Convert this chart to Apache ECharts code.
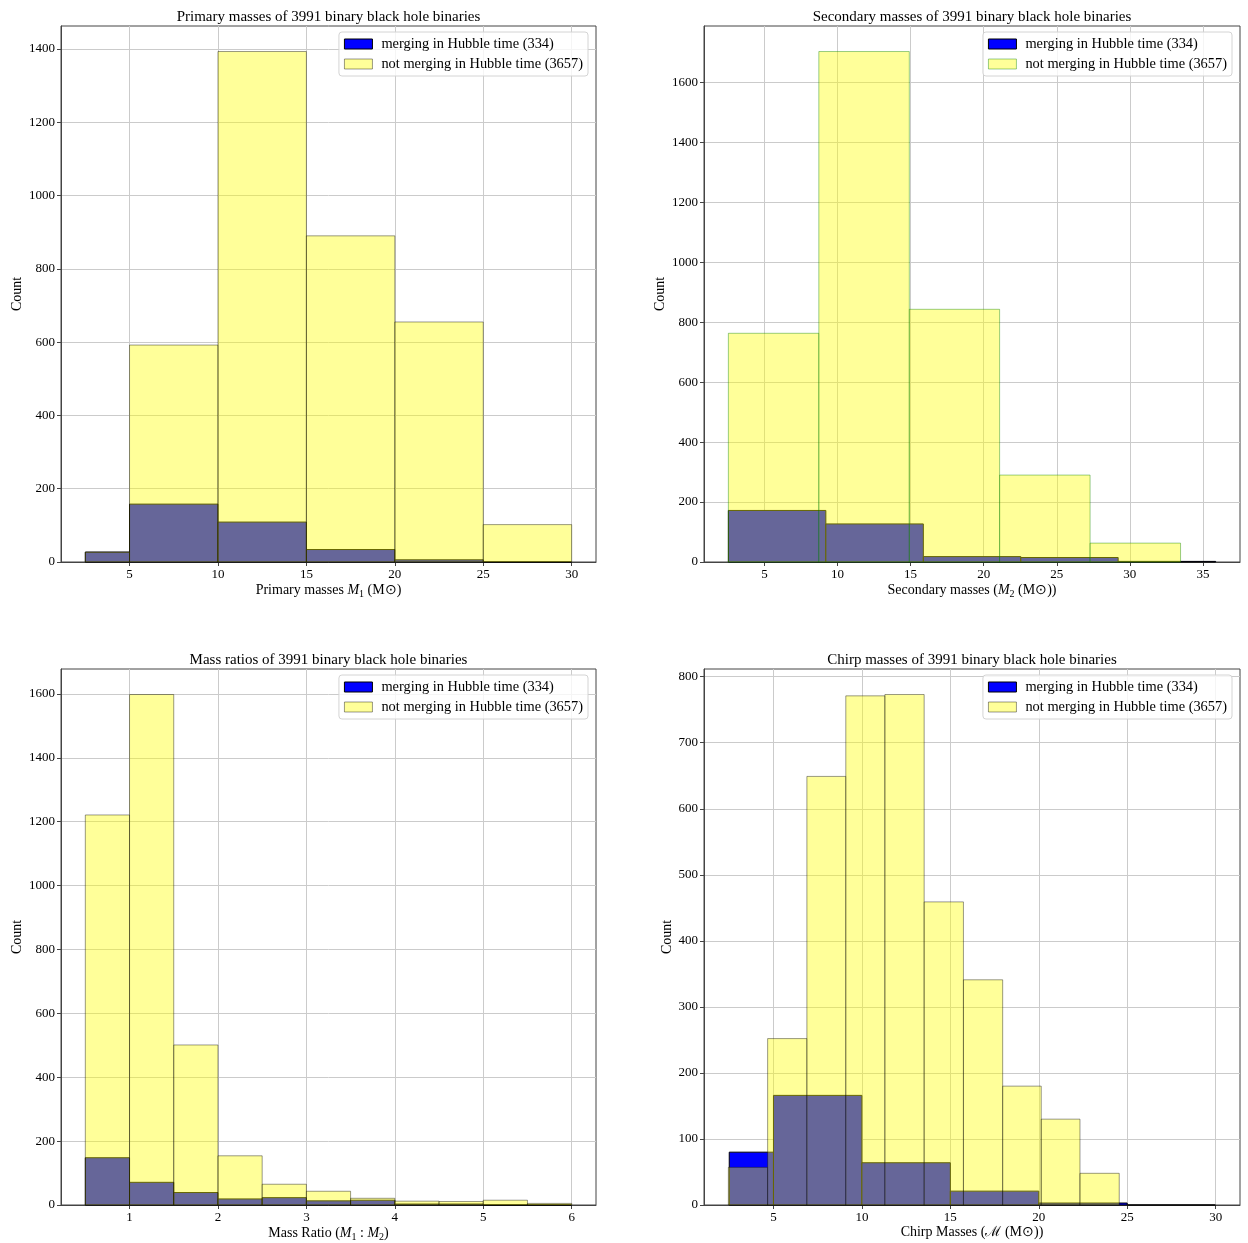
<!DOCTYPE html>
<html><head><meta charset="utf-8">
<script src="https://cdn.jsdelivr.net/npm/echarts@6/dist/echarts.min.js"></script>
<style>html,body{margin:0;padding:0;background:#fff}#c{width:1248px;height:1243px}</style>
</head><body><div id="c"></div>
<script>
// ---------- data ----------
const legendNames = ['merging in Hubble time (334)', 'not merging in Hubble time (3657)'];
const panelTitles = [
  'Primary masses of 3991 binary black hole binaries',
  'Secondary masses of 3991 binary black hole binaries',
  'Mass ratios of 3991 binary black hole binaries',
  'Chirp masses of 3991 binary black hole binaries'
];
const xAxisNames = [
  'Primary masses {i|M}{s|1} (M⊙)',
  'Secondary masses ({i|M}{s|2} (M⊙))',
  'Mass Ratio ({i|M}{s|1} : {i|M}{s|2})',
  'Chirp Masses (ℳ (M⊙))'
];
// Primary masses
const primaryMergingEdges = [2.5, 5, 10, 15, 20, 25, 30];
const primaryMergingCounts = [27, 158, 109, 34, 6, 0];
const primaryNotMergingEdges = [2.5, 5, 10, 15, 20, 25, 30];
const primaryNotMergingCounts = [27, 592, 1393, 890, 655, 102];
const primaryXTicks = [5, 10, 15, 20, 25, 30];
const primaryYTicks = [0, 200, 400, 600, 800, 1000, 1200, 1400];
// Secondary masses
const secondaryMergingEdges = [2.53, 9.2, 15.87, 22.54, 29.2, 35.87];
const secondaryMergingCounts = [172, 127, 18, 15, 2];
const secondaryNotMergingEdges = [2.53, 8.72, 14.91, 21.09, 27.28, 33.47];
const secondaryNotMergingCounts = [763, 1703, 843, 290, 63];
const secondaryXTicks = [5, 10, 15, 20, 25, 30, 35];
const secondaryYTicks = [0, 200, 400, 600, 800, 1000, 1200, 1400, 1600];
// Mass ratios
const ratioEdges = [0.5, 1, 1.5, 2, 2.5, 3, 3.5, 4, 4.5, 5, 5.5, 6];
const ratioMergingCounts = [148, 71, 39, 19, 23, 13, 15, 3, 3, 0, 0];
const ratioNotMergingCounts = [1221, 1598, 501, 154, 65, 43, 21, 12, 11, 15, 5];
const ratioXTicks = [1, 2, 3, 4, 5, 6];
const ratioYTicks = [0, 200, 400, 600, 800, 1000, 1200, 1400, 1600];
// Chirp masses
const chirpMergingEdges = [2.5, 5, 10, 15, 20, 25, 30];
const chirpMergingCounts = [80, 166, 64, 21, 3, 0];
const chirpNotMergingEdges = [2.45, 4.67, 6.89, 9.09, 11.30, 13.52, 15.74, 17.96, 20.14, 22.33, 24.55];
const chirpNotMergingCounts = [57, 252, 649, 771, 773, 459, 341, 180, 130, 48];
const chirpXTicks = [5, 10, 15, 20, 25, 30];
const chirpYTicks = [0, 100, 200, 300, 400, 500, 600, 700, 800];

// ---------- layout ----------
const FONT = 'Liberation Serif';
const panels = [
  {left: 61, top: 26, width: 535, height: 536, legendRight: 660, nameGapY: 37,
   mE: primaryMergingEdges, mC: primaryMergingCounts, nE: primaryNotMergingEdges, nC: primaryNotMergingCounts,
   xt: primaryXTicks, yt: primaryYTicks, yEdge: 'rgba(0,0,0,0.4)'},
  {left: 704, top: 26, width: 536, height: 536, legendRight: 16, nameGapY: 37,
   mE: secondaryMergingEdges, mC: secondaryMergingCounts, nE: secondaryNotMergingEdges, nC: secondaryNotMergingCounts,
   xt: secondaryXTicks, yt: secondaryYTicks, yEdge: 'rgba(0,128,0,0.4)'},
  {left: 61, top: 669, width: 535, height: 536, legendRight: 660, nameGapY: 37,
   mE: ratioEdges, mC: ratioMergingCounts, nE: ratioEdges, nC: ratioNotMergingCounts,
   xt: ratioXTicks, yt: ratioYTicks, yEdge: 'rgba(0,0,0,0.4)'},
  {left: 704, top: 669, width: 536, height: 536, legendRight: 16, nameGapY: 30,
   mE: chirpMergingEdges, mC: chirpMergingCounts, nE: chirpNotMergingEdges, nC: chirpNotMergingCounts,
   xt: chirpXTicks, yt: chirpYTicks, yEdge: 'rgba(0,0,0,0.4)'}
];

function toBins(edges, counts) {
  return counts.map((c, i) => [edges[i], edges[i + 1], c]);
}
function makeRender(fill, stroke) {
  return function (params, api) {
    const x0 = api.value(0), x1 = api.value(1), y = api.value(2);
    const p0 = api.coord([x0, 0]);
    const p1 = api.coord([x1, y]);
    return {
      type: 'rect',
      shape: {x: p0[0], y: p1[1], width: p1[0] - p0[0], height: p0[1] - p1[1]},
      style: {fill: fill, stroke: stroke, lineWidth: 1}
    };
  };
}
const plain = v => String(Math.round(v * 100) / 100);

const option = {
  backgroundColor: '#fff',
  animation: false,
  title: [], grid: [], xAxis: [], yAxis: [], legend: [], series: []
};

panels.forEach((p, k) => {
  const allEdges = p.mE.concat(p.nE);
  const lo = Math.min(...allEdges), hi = Math.max(...allEdges);
  const pad = 0.05 * (hi - lo);
  const ymax = 1.05 * Math.max(...p.mC, ...p.nC);
  option.title.push({
    text: panelTitles[k], left: p.left + p.width / 2, top: p.top - 16, textAlign: 'center',
    padding: 0,
    textStyle: {fontFamily: FONT, fontSize: 15, fontWeight: 'normal', color: '#000'}
  });
  option.grid.push({left: p.left, top: p.top, width: p.width, height: p.height,
    show: true, borderColor: '#444', borderWidth: 1, backgroundColor: 'transparent'});
  option.xAxis.push({
    type: 'value', gridIndex: k, min: lo - pad, max: hi + pad,
    name: xAxisNames[k], nameLocation: 'middle', nameGap: 20,
    nameTextStyle: {fontFamily: FONT, fontSize: 14, color: '#000', verticalAlign: 'top',
      rich: {i: {fontStyle: 'italic', fontFamily: FONT, fontSize: 14, color: '#000'},
             s: {fontFamily: FONT, fontSize: 10, color: '#000', padding: [7, 0, 0, 0]}}},
    axisLine: {show: true, onZero: false, lineStyle: {color: '#444', width: 1}},
    axisTick: {show: true, length: 4, customValues: p.xt, lineStyle: {color: '#444'}},
    axisLabel: {customValues: p.xt, margin: 6, fontFamily: FONT, fontSize: 13, color: '#000', formatter: plain},
    splitLine: {show: true, lineStyle: {color: '#cbcbcb', width: 1}}
  });
  option.yAxis.push({
    type: 'value', gridIndex: k, min: 0, max: ymax,
    name: 'Count', nameLocation: 'middle', nameGap: p.nameGapY, nameRotate: 90,
    nameTextStyle: {fontFamily: FONT, fontSize: 14, color: '#000'},
    axisLine: {show: true, lineStyle: {color: '#444', width: 1}},
    axisTick: {show: true, length: 4, customValues: p.yt, lineStyle: {color: '#444'}},
    axisLabel: {customValues: p.yt, margin: 6, fontFamily: FONT, fontSize: 13, color: '#000', formatter: plain},
    splitLine: {show: true, lineStyle: {color: '#cbcbcb', width: 1}}
  });
  option.legend.push({
    orient: 'vertical', right: p.legendRight, top: p.top + 6,
    itemWidth: 28, itemHeight: 10, itemGap: 6, padding: [5, 5, 5, 5],
    borderColor: '#d4d4d4', borderWidth: 1, borderRadius: 3,
    backgroundColor: 'rgba(255,255,255,0.8)', selectedMode: false,
    textStyle: {fontFamily: FONT, fontSize: 14.4, color: '#000', padding: [0, 0, 0, 4]},
    data: [
      {name: legendNames[0], icon: 'rect', itemStyle: {color: '#0000ff', borderColor: '#000', borderWidth: 1}},
      {name: legendNames[1], icon: 'rect', itemStyle: {color: 'rgba(255,255,0,0.4)', borderColor: p.yEdge, borderWidth: 1}}
    ]
  });
  option.series.push({
    type: 'custom', name: legendNames[0], xAxisIndex: k, yAxisIndex: k,
    renderItem: makeRender('#0000ff', '#000'),
    encode: {x: [0, 1], y: 2},
    itemStyle: {color: '#0000ff'},
    data: toBins(p.mE, p.mC)
  });
  option.series.push({
    type: 'custom', name: legendNames[1], xAxisIndex: k, yAxisIndex: k,
    renderItem: makeRender('rgba(255,255,0,0.4)', p.yEdge),
    encode: {x: [0, 1], y: 2},
    itemStyle: {color: 'rgba(255,255,0,0.4)'},
    data: toBins(p.nE, p.nC)
  });
});

const chart = echarts.init(document.getElementById('c'), null, {renderer: 'canvas'});
chart.setOption(option);
</script></body></html>
